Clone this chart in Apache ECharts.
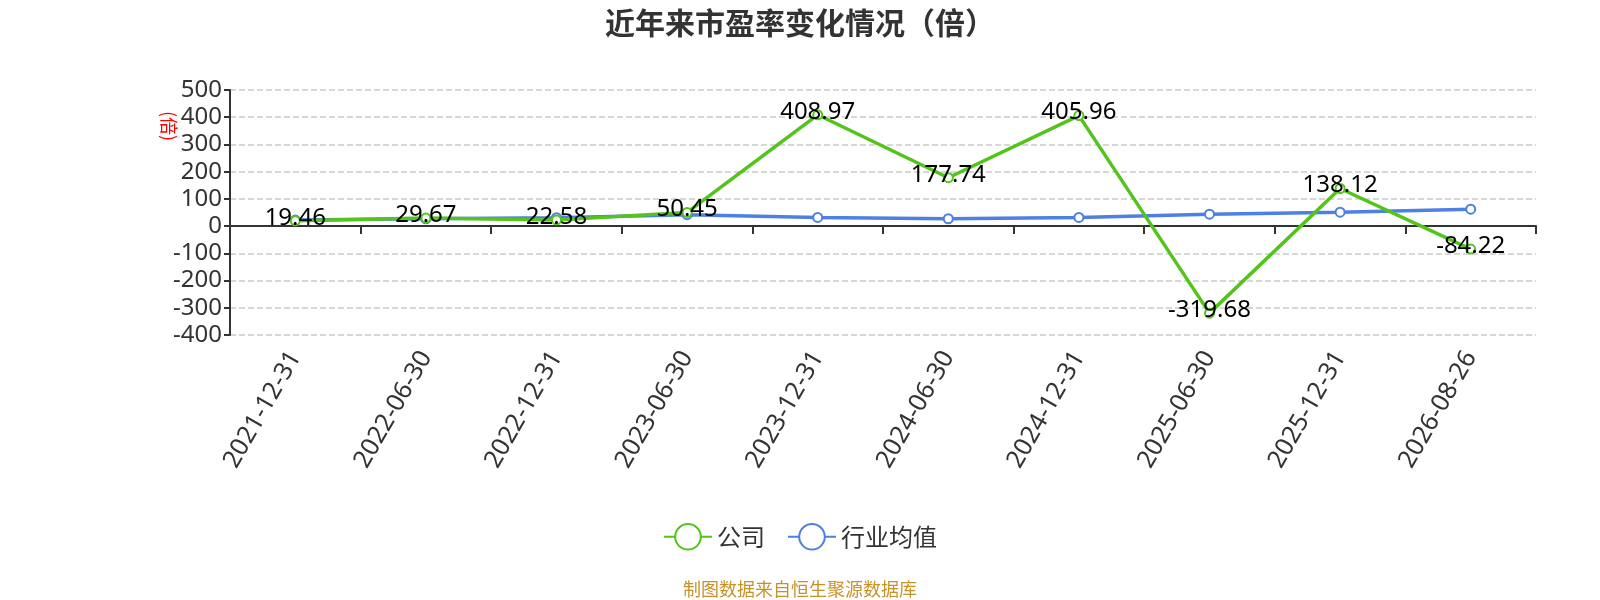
<!DOCTYPE html>
<html lang="zh">

<head>
    <meta charset="UTF-8">
    <title>近年来市盈率变化情况（倍）</title>
    <script src="https://cdn.jsdelivr.net/npm/echarts@6/dist/echarts.min.js"></script>
    <style>
        html, body { margin: 0; padding: 0; background: #fff; }
        #chart { width: 1600px; height: 600px; }
    </style>
</head>

<body>
    <div id="chart"></div>

    <script>
        // data
        const dates = ['2021-12-31', '2022-06-30', '2022-12-31', '2023-06-30', '2023-12-31',
            '2024-06-30', '2024-12-31', '2025-06-30', '2025-12-31', '2026-08-26'];
        const companyPE = [19.46, 29.67, 22.58, 50.45, 408.97, 177.74, 405.96, -319.68, 138.12, -84.22];
        const industryPE = [22, 27, 31, 42, 32, 27, 32, 44, 51, 62];
        const yMin = -400, yMax = 500, yStep = 100;

        const font = '"Noto Sans", "Noto Sans CJK SC", sans-serif';
        const cjk = '"Noto Sans CJK SC", sans-serif';
        const green = '#52C41A';
        const blue = '#4E7FE3';

        const chart = echarts.init(document.getElementById('chart'));
        chart.setOption({
            animation: false,
            textStyle: { fontFamily: font },
            title: {
                text: '近年来市盈率变化情况（倍）',
                left: 'center', top: 3,
                textStyle: { fontSize: 30, fontWeight: 'bold', color: '#333', fontFamily: cjk }
            },
            legend: {
                left: 'center', top: 518,
                itemWidth: 48, itemHeight: 32, itemGap: 22,
                textStyle: { fontSize: 24, color: '#333', fontFamily: cjk },
                data: ['公司', '行业均值']
            },
            graphic: [
                {
                    type: 'text', x: 169, y: 126, rotation: -Math.PI / 2,
                    style: {
                        text: '(倍)', fill: '#f00', fontSize: 18, fontFamily: cjk,
                        textAlign: 'center', textVerticalAlign: 'middle'
                    }
                },
                {
                    type: 'text', x: 800, y: 589,
                    style: {
                        text: '制图数据来自恒生聚源数据库', fill: '#C8922A', fontSize: 18, fontFamily: cjk,
                        textAlign: 'center', textVerticalAlign: 'middle'
                    }
                }
            ],
            grid: { left: 230, right: 64, top: 90, bottom: 265 },
            xAxis: [
                {
                    type: 'category', data: dates, position: 'bottom',
                    axisLine: { onZero: true, lineStyle: { color: '#333', width: 2 } },
                    axisTick: { show: true, length: 8, lineStyle: { color: '#333', width: 2 } },
                    axisLabel: { show: false }
                },
                {
                    type: 'category', data: dates, position: 'bottom',
                    axisLine: { show: false, onZero: false },
                    axisTick: { show: false },
                    axisLabel: { rotate: 60, fontSize: 25, color: '#333', margin: 18, interval: 0 }
                }
            ],
            yAxis: {
                type: 'value', min: yMin, max: yMax, interval: yStep,
                axisLine: { show: true, lineStyle: { color: '#333', width: 2 } },
                axisTick: { show: true, length: 6, lineStyle: { color: '#333', width: 2 } },
                axisLabel: { fontSize: 24, color: '#333', margin: 8 },
                splitLine: { lineStyle: { type: 'dashed', color: '#ccc', width: 1.5 } }
            },
            series: [
                {
                    name: '公司', type: 'line', data: companyPE,
                    symbol: 'emptyCircle', symbolSize: 9,
                    itemStyle: { color: green },
                    lineStyle: { width: 3.5, color: green },
                    label: { show: true, position: 'inside', offset: [0, -3], fontSize: 24, color: '#000' },
                    z: 3
                },
                {
                    name: '行业均值', type: 'line', data: industryPE,
                    symbol: 'emptyCircle', symbolSize: 9,
                    itemStyle: { color: blue },
                    lineStyle: { width: 3.5, color: blue },
                    z: 2
                }
            ]
        });
    </script>
</body>

</html>
